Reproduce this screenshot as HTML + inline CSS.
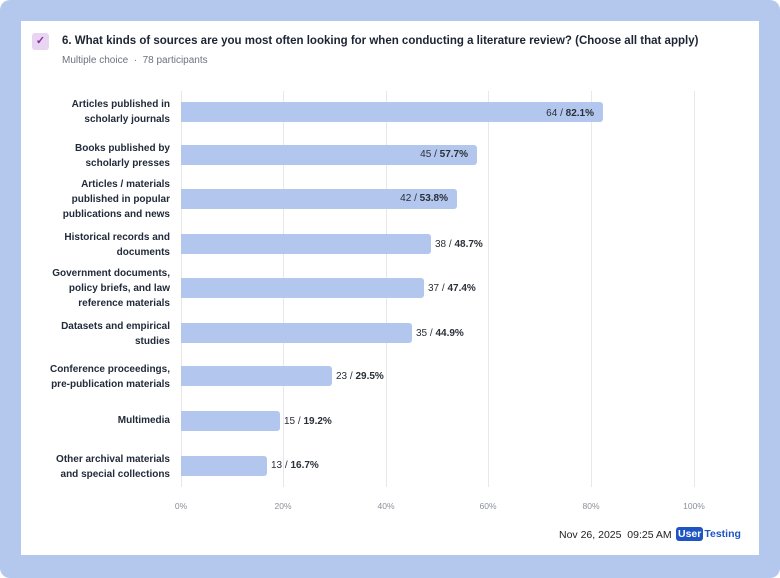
<!DOCTYPE html>
<html><head><meta charset="utf-8"><style>
*{margin:0;padding:0;box-sizing:border-box}
body{width:780px;height:578px;background:#fff;font-family:"Liberation Sans",Arial,sans-serif;position:relative;overflow:hidden}
.bg{position:absolute;left:0;top:0;width:780px;height:578px;background:#b3c8ec;border-radius:10px}
.card{position:absolute;left:21px;top:21px;width:738px;height:534px;background:#fff}
.a{position:absolute}
.chk{left:32px;top:33px;width:17px;height:17px;background:#e7d5f1;border-radius:3px;color:#8a2aa8;font-size:11px;text-align:center;line-height:17px;font-weight:bold}
.title{left:62px;top:35px;font-size:11.5px;font-weight:bold;color:#1d2433}
.sub{left:62px;top:55px;font-size:10px;color:#6b7280}
.grid{width:1px;top:91px;height:396px;background:#e8e8ea}
.tick{top:501px;font-size:8.5px;color:#8a8f98;width:40px;margin-left:-20px;text-align:center}
.lab{right:610px;font-size:10px;font-weight:bold;color:#222b3a;text-align:right;line-height:15px;white-space:nowrap}
.bar{left:181px;height:20px;background:#b3c7ee;border-radius:0 3px 3px 0}
.val{font-size:10px;color:#2a2f38;white-space:nowrap;line-height:20px}
.val b{font-weight:bold}
.foot{left:559px;top:529px;font-size:10.5px;color:#222}
.logo{left:676px;top:528px;font-size:10.5px;font-weight:bold;color:#1f55c2;white-space:nowrap}
.logo span{background:#1f55c2;color:#fff;padding:1px 2px;border-radius:3px;margin-right:1px}
</style></head><body>
<div class="bg"></div><div class="card"></div>
<div class="a chk">✓</div>
<div class="a title">6. What kinds of sources are you most often looking for when conducting a literature review? (Choose all that apply)</div>
<div class="a sub">Multiple choice &nbsp;·&nbsp; 78 participants</div>

<div class="a grid" style="left:181px"></div>
<div class="a grid" style="left:283px"></div>
<div class="a grid" style="left:386px"></div>
<div class="a grid" style="left:488px"></div>
<div class="a grid" style="left:591px"></div>
<div class="a grid" style="left:694px"></div>
<div class="a tick" style="left:181px">0%</div>
<div class="a tick" style="left:283px">20%</div>
<div class="a tick" style="left:386px">40%</div>
<div class="a tick" style="left:488px">60%</div>
<div class="a tick" style="left:591px">80%</div>
<div class="a tick" style="left:694px">100%</div>

<div class="a lab" style="top:97px">Articles published in<br>scholarly journals</div>
<div class="a bar" style="top:102px;width:422px"></div>
<div class="a val" style="top:104px;right:186px">64 / <b>82.1%</b></div>

<div class="a lab" style="top:141px">Books published by<br>scholarly presses</div>
<div class="a bar" style="top:145px;width:296px"></div>
<div class="a val" style="top:145px;right:312px">45 / <b>57.7%</b></div>

<div class="a lab" style="top:177px">Articles / materials<br>published in popular<br>publications and news</div>
<div class="a bar" style="top:189px;width:276px"></div>
<div class="a val" style="top:189px;right:332px">42 / <b>53.8%</b></div>

<div class="a lab" style="top:230px">Historical records and<br>documents</div>
<div class="a bar" style="top:234px;width:250px"></div>
<div class="a val" style="top:235px;left:435px">38 / <b>48.7%</b></div>

<div class="a lab" style="top:266px">Government documents,<br>policy briefs, and law<br>reference materials</div>
<div class="a bar" style="top:278px;width:243px"></div>
<div class="a val" style="top:279px;left:428px">37 / <b>47.4%</b></div>

<div class="a lab" style="top:319px">Datasets and empirical<br>studies</div>
<div class="a bar" style="top:323px;width:231px"></div>
<div class="a val" style="top:324px;left:416px">35 / <b>44.9%</b></div>

<div class="a lab" style="top:362px">Conference proceedings,<br>pre-publication materials</div>
<div class="a bar" style="top:366px;width:151px"></div>
<div class="a val" style="top:367px;left:336px">23 / <b>29.5%</b></div>

<div class="a lab" style="top:413px">Multimedia</div>
<div class="a bar" style="top:411px;width:99px"></div>
<div class="a val" style="top:412px;left:284px">15 / <b>19.2%</b></div>

<div class="a lab" style="top:452px">Other archival materials<br>and special collections</div>
<div class="a bar" style="top:456px;width:86px"></div>
<div class="a val" style="top:456px;left:271px">13 / <b>16.7%</b></div>

<div class="a foot">Nov 26, 2025 &nbsp;09:25 AM</div>
<div class="a logo"><span>User</span>Testing</div>
</body></html>
